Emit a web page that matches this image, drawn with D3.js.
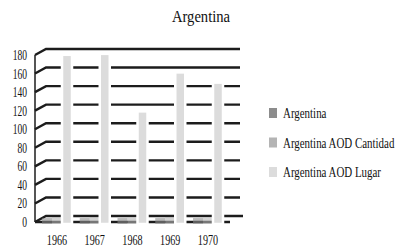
<!DOCTYPE html>
<html>
<head>
<meta charset="utf-8">
<script src="https://cdn.jsdelivr.net/npm/d3@7/dist/d3.min.js"></script>
<style>
    html, body { margin: 0; padding: 0; background: #fff; }
    svg { display: block; font-family: "Liberation Serif", "Times New Roman", serif; }
</style>
</head>
<body>
<div id="chart"></div>
<script>
var years = ["1966", "1967", "1968", "1969", "1970"],
    seriesNames = ["Argentina", "Argentina AOD Cantidad", "Argentina AOD Lugar"],
    argentina = [1, 1, 1, 1, 1],
    aodCantidad = [2, 2, 1, 2, 1],
    aodLugar = [177, 178, 116, 158, 147],
    yTicks = [0, 20, 40, 60, 80, 100, 120, 140, 160, 180],
    seriesColors = ["#8c8c8c", "#b4b4b4", "#dcdcdc"];

var width = 396,
    height = 249,
    // fake 3d: the back wall sits a bit up and right of the front edge
    depthX = 11,
    depthY = -6,
    lineColor = "#1c1c1c",
    textColor = "#111";

var svg = d3.select("#chart").append("svg")
    .attr("width", width)
    .attr("height", height);

// front edge scale (where the tick labels sit)
var y = d3.scaleLinear().domain([0, 180]).range([222, 55]);
// bars stand half way into the depth
var yBar = d3.scaleLinear().domain([0, 180]).range([219, 52]);
var x0 = d3.scalePoint().domain(years).range([57, 208]);
var x1 = d3.scaleBand().domain(seriesNames).range([-15, 15]);

// the original type is a condensed serif, so squash it sideways
// (done with a transform so the box of the text shrinks too)
function squeeze(sel, k) {
    sel.each(function () {
        var t = d3.select(this),
            px = +t.attr("x"),
            py = +t.attr("y");
        t.attr("x", 0).attr("y", 0)
            .attr("transform", "translate(" + px + "," + py + ") scale(" + k + ",1)");
    });
}

var left = 35,
    right = 240;

// grid lines with the little slanted bit on the side wall
svg.append("g").selectAll("path")
    .data(yTicks)
    .enter().append("path")
    .attr("d", function (t) {
        var yy = y(t);
        var end = t === 0 ? right + 3 : right;
        return "M" + left + "," + yy + "L" + (left + depthX) + "," + (yy + depthY) + "L" + end + "," + (yy + depthY);
    })
    .attr("fill", "none")
    .attr("stroke", lineColor)
    .attr("stroke-width", 2.4);

// left wall edge
svg.append("line")
    .attr("x1", left).attr("x2", left)
    .attr("y1", y(180)).attr("y2", y(0))
    .attr("stroke", lineColor)
    .attr("stroke-width", 1.5);

// front edge of the floor
svg.append("line")
    .attr("x1", left).attr("x2", 230)
    .attr("y1", y(0)).attr("y2", y(0))
    .attr("stroke", lineColor)
    .attr("stroke-width", 2.4);

var allSeries = [argentina, aodCantidad, aodLugar];

var groups = svg.append("g").selectAll("g")
    .data(years)
    .enter().append("g")
    .attr("transform", function (d) { return "translate(" + x0(d) + ",0)"; });

groups.selectAll("rect")
    .data(function (d, i) {
        return allSeries.map(function (s, k) { return { name: seriesNames[k], value: s[i], k: k }; });
    })
    .enter().append("rect")
    .attr("x", function (d) { return x1(d.name); })
    .attr("width", x1.bandwidth())
    .attr("y", function (d) { return yBar(d.value); })
    .attr("height", function (d) { return y(0) + 2 - yBar(d.value); })
    .attr("fill", function (d) { return seriesColors[d.k]; })
    .attr("fill-opacity", function (d) { return d.k === 2 ? 1 : 0.6; })
    .attr("stroke", function (d) { return d.k === 2 ? "#fff" : "none"; })
    .attr("stroke-width", 2.5);

// y tick labels
svg.append("g").selectAll("text")
    .data(yTicks)
    .enter().append("text")
    .attr("x", 27)
    .attr("y", function (t) { return y(t) + 5; })
    .attr("text-anchor", "end")
    .attr("font-size", 14)
    .attr("fill", textColor)
    .text(function (t) { return t; })
    .call(squeeze, 0.68);

// year labels
svg.append("g").selectAll("text")
    .data(years)
    .enter().append("text")
    .attr("x", function (d) { return x0(d); })
    .attr("y", 245)
    .attr("text-anchor", "middle")
    .attr("font-size", 14.5)
    .attr("fill", textColor)
    .text(function (d) { return d; })
    .call(squeeze, 0.7);

// title
svg.append("text")
    .attr("x", 201)
    .attr("y", 22)
    .attr("text-anchor", "middle")
    .attr("font-size", 17)
    .attr("fill", textColor)
    .text("Argentina")
    .call(squeeze, 0.86);

// legend
var legend = svg.append("g").selectAll("g")
    .data(seriesNames)
    .enter().append("g")
    .attr("transform", function (d, i) { return "translate(269," + (108 + i * 29.5) + ")"; });

legend.append("rect")
    .attr("width", 8)
    .attr("height", 10)
    .attr("fill", function (d, i) { return seriesColors[i]; });

legend.append("text")
    .attr("x", 14)
    .attr("y", 10)
    .attr("font-size", 14)
    .attr("fill", textColor)
    .text(function (d) { return d; })
    .call(squeeze, 0.78);
</script>
</body>
</html>
